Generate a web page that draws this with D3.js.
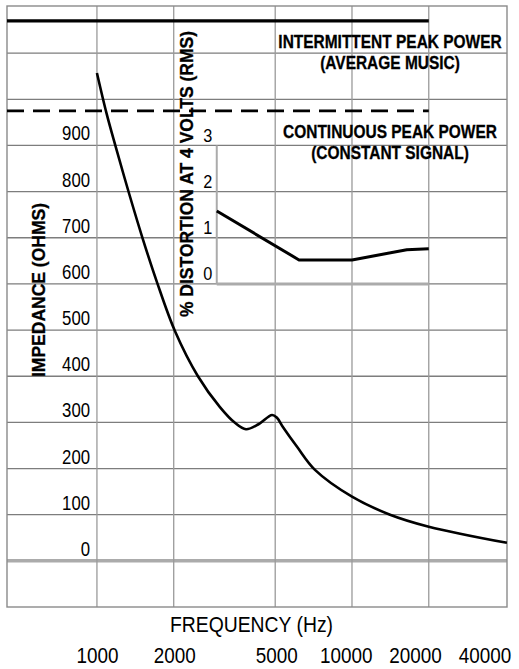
<!DOCTYPE html>
<html><head><meta charset="utf-8">
<script src="https://cdn.jsdelivr.net/npm/d3@7"></script>
<style>body{margin:0;background:#fff}svg{display:block}</style>
</head><body><svg id="c" width="519" height="669"></svg>
<script>
// ---- data ----
const impedanceFreq = [1000, 1090, 1182, 1335, 1508, 1719, 2022, 2489, 3036, 3476, 3840, 4300, 4860, 5080, 5360, 6090, 7160, 10000, 14100, 20000, 40500];
const impedanceOhms = [1057, 970, 899, 797, 700, 604, 498, 400, 333, 299, 285, 296, 316, 310, 290, 247, 197, 139, 100, 74, 39];
const distortionFreq = [2950, 6200, 10000, 16400, 20000];
const distortionPct = [1.58, 0.52, 0.52, 0.74, 0.76];
const freqTicks = [1000, 2000, 5000, 10000, 20000, 40000];
const freqGrid = [1000, 2000, 5000, 10000, 20000];
const ohmTicks = [0, 100, 200, 300, 400, 500, 600, 700, 800, 900];
const ohmGrid = [0, 100, 200, 300, 400, 500, 600, 700, 800, 900, 1000, 1100];
const pctTicks = [0, 1, 2, 3];
const powerNames = ["INTERMITTENT PEAK POWER", "CONTINUOUS PEAK POWER"];
const powerNotes = ["(AVERAGE MUSIC)", "(CONSTANT SIGNAL)"];
const powerLevels = [1170, 975];
const powerDashed = [false, true];
const xTitle = "FREQUENCY (Hz)";
const yTitle = "IMPEDANCE (OHMS)";
const insetTitle = "% DISTORTION AT 4 VOLTS (RMS)";

// ---- layout ----
const FONT = "'Liberation Sans', Arial, Helvetica, sans-serif";
const svg = d3.select("#c");
svg.append("rect").attr("width", 519).attr("height", 669).attr("fill", "#fff");

const x = d3.scaleLog().domain([444, 40530]).range([7, 507]);
const y = d3.scaleLinear().domain([-100, 1200]).range([607, 7]);
const yD = d3.scaleLinear().domain([0, 3]).range([y(600), y(900)]);
const xLab = d3.scaleLog().domain([1000, 5000, 40000]).range([x(1000), x(5000) + 1, x(40000) - 21]);

// grid
const grid = svg.append("g");
grid.selectAll("line.h").data(ohmGrid).join("line")
  .attr("x1", x.range()[0]).attr("x2", x.range()[1])
  .attr("y1", d => y(d)).attr("y2", d => y(d))
  .attr("stroke", d => d === 0 ? "#ababab" : "#7d7d7d")
  .attr("stroke-width", d => d === 0 ? 3.5 : 1.3);
grid.selectAll("line.v").data(freqGrid).join("line")
  .attr("x1", d => x(d)).attr("x2", d => x(d))
  .attr("y1", y.range()[1] - 1).attr("y2", y.range()[0])
  .attr("stroke", "#9a9a9a").attr("stroke-width", 1.3);
grid.append("rect")
  .attr("x", x.range()[0]).attr("y", y.range()[1] - 1)
  .attr("width", x.range()[1] - x.range()[0]).attr("height", y.range()[0] - y.range()[1] + 1)
  .attr("fill", "none").attr("stroke", "#8a8a8a").attr("stroke-width", 1.4);

// power reference lines and labels
powerLevels.forEach((lv, i) => {
  svg.append("line")
    .attr("x1", x.range()[0]).attr("x2", x(20000))
    .attr("y1", y(lv)).attr("y2", y(lv))
    .attr("stroke", "#000").attr("stroke-width", powerDashed[i] ? 2.6 : 3.2)
    .attr("stroke-dasharray", powerDashed[i] ? "17,9" : null);
  svg.append("text").attr("transform", `translate(390,${y(lv) + 27}) scale(0.86,1)`)
    .attr("text-anchor", "middle").attr("font-family", FONT).attr("font-weight", "bold")
    .attr("font-size", 18).attr("stroke", "#000").attr("stroke-width", 0.3).text(powerNames[i]);
  svg.append("text").attr("transform", `translate(390,${y(lv) + 48.5}) scale(0.86,1)`)
    .attr("text-anchor", "middle").attr("font-family", FONT).attr("font-weight", "bold")
    .attr("font-size", 18).attr("stroke", "#000").attr("stroke-width", 0.3).text(powerNotes[i]);
});

// main y axis labels
const yAxis = svg.append("g").attr("transform", `translate(${x(1000)},0)`)
  .call(d3.axisLeft(y).tickValues(ohmTicks).tickSize(0).tickPadding(8).tickFormat(d3.format("d")));
yAxis.select(".domain").remove();
yAxis.selectAll("text").attr("dy", -5.5).attr("font-family", FONT).attr("font-size", 19.5)
  .attr("fill", "#000").attr("transform", "scale(0.86,1)");

// inset (distortion) axis
const x0 = x(distortionFreq[0]);
svg.append("line").attr("x1", x0).attr("x2", x0).attr("y1", yD(0)).attr("y2", yD(3))
  .attr("stroke", "#ababab").attr("stroke-width", 2);
svg.append("line").attr("x1", x0).attr("x2", x(20000)).attr("y1", yD(0)).attr("y2", yD(0))
  .attr("stroke", "#ababab").attr("stroke-width", 3);
const dAxis = svg.append("g").attr("transform", `translate(${x0},0)`)
  .call(d3.axisLeft(yD).tickValues(pctTicks).tickSize(0).tickPadding(5).tickFormat(d3.format("d")));
dAxis.select(".domain").remove();
dAxis.selectAll("text").attr("dy", -4).attr("font-family", FONT).attr("font-size", 18.5)
  .attr("fill", "#000").attr("transform", "scale(0.88,1)");

// curves
const impData = impedanceFreq.map((f, i) => [f, impedanceOhms[i]]);
svg.append("path").datum(impData)
  .attr("d", d3.line().x(d => x(d[0])).y(d => y(d[1])).curve(d3.curveCatmullRom.alpha(0.5)))
  .attr("fill", "none").attr("stroke", "#000").attr("stroke-width", 2.6);
const distData = distortionFreq.map((f, i) => [f, distortionPct[i]]);
svg.append("path").datum(distData)
  .attr("d", d3.line().x(d => x(d[0])).y(d => yD(d[1])).curve(d3.curveLinear))
  .attr("fill", "none").attr("stroke", "#000").attr("stroke-width", 3).attr("stroke-linejoin", "round");

// titles
svg.append("text").attr("transform", `translate(45,${(203 + 377) / 2}) rotate(-90)`)
  .attr("text-anchor", "middle").attr("font-family", FONT).attr("font-weight", "bold")
  .attr("font-size", 17.5).attr("stroke", "#000").attr("stroke-width", 0.3).text(yTitle);
svg.append("text").attr("transform", `translate(192.5,${(33 + 315) / 2}) rotate(-90)`)
  .attr("text-anchor", "middle").attr("font-family", FONT).attr("font-weight", "bold")
  .attr("font-size", 17.5).attr("stroke", "#000").attr("stroke-width", 0.3).text(insetTitle);

// x axis labels
svg.append("text").attr("transform", "translate(251.5,632) scale(0.88,1)")
  .attr("text-anchor", "middle").attr("font-family", FONT).attr("font-size", 22).text(xTitle);
const xAxis = svg.append("g").attr("transform", "translate(0,663)")
  .call(d3.axisBottom(xLab).tickValues(freqTicks).tickSize(0).tickFormat(d3.format("d")));
xAxis.select(".domain").remove();
xAxis.selectAll("text").attr("y", 0).attr("dy", 0).attr("font-family", FONT).attr("font-size", 22.5)
  .attr("fill", "#000").attr("transform", "scale(0.84,1)");
</script></body></html>
